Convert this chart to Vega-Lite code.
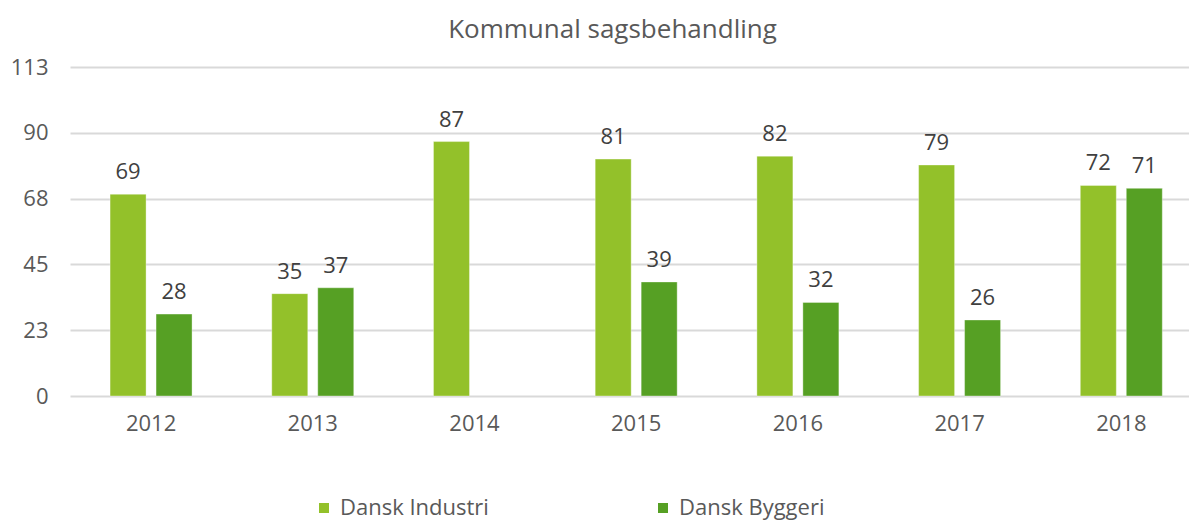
{
  "$schema": "https://vega.github.io/schema/vega-lite/v6.json",
  "width": 1119,
  "height": 329,
  "autosize": {"type": "none"},
  "padding": {"left": 70, "top": 67, "right": 0, "bottom": 124},
  "background": "#ffffff",
  "config": {
    "font": "Open Sans",
    "view": {"stroke": null}
  },
  "title": {
    "text": "Kommunal sagsbehandling",
    "fontSize": 26,
    "fontWeight": "normal",
    "color": "#595959",
    "anchor": "middle",
    "baseline": "bottom",
    "offset": 22,
    "dx": -17,
    "dy": 35
  },
  "data": {
    "values": [
      {"year": "2012", "series": "Dansk Industri", "value": 69},
      {"year": "2012", "series": "Dansk Byggeri", "value": 28},
      {"year": "2013", "series": "Dansk Industri", "value": 35},
      {"year": "2013", "series": "Dansk Byggeri", "value": 37},
      {"year": "2014", "series": "Dansk Industri", "value": 87},
      {"year": "2014", "series": "Dansk Byggeri", "value": null},
      {"year": "2015", "series": "Dansk Industri", "value": 81},
      {"year": "2015", "series": "Dansk Byggeri", "value": 39},
      {"year": "2016", "series": "Dansk Industri", "value": 82},
      {"year": "2016", "series": "Dansk Byggeri", "value": 32},
      {"year": "2017", "series": "Dansk Industri", "value": 79},
      {"year": "2017", "series": "Dansk Byggeri", "value": 26},
      {"year": "2018", "series": "Dansk Industri", "value": 72},
      {"year": "2018", "series": "Dansk Byggeri", "value": 71}
    ]
  },
  "encoding": {
    "x": {
      "field": "year",
      "type": "nominal",
      "scale": {"paddingInner": 0.493, "paddingOuter": 0.2065, "align": 0.6},
      "axis": {
        "title": null,
        "labelAngle": 0,
        "labelFontSize": 22,
        "labelColor": "#595959",
        "labelPadding": 17,
        "labelBaseline": "top",
        "ticks": false,
        "domain": false,
        "grid": false
      }
    },
    "xOffset": {
      "field": "series",
      "type": "nominal",
      "sort": ["Dansk Industri", "Dansk Byggeri"],
      "scale": {"paddingInner": 0.217, "paddingOuter": 0}
    },
    "y": {
      "field": "value",
      "type": "quantitative",
      "scale": {"domain": [0, 112.5], "nice": false},
      "axis": {
        "title": null,
        "values": [0, 22.5, 45, 67.5, 90, 112.5],
        "format": ".0f",
        "labelFontSize": 22,
        "labelColor": "#595959",
        "labelPadding": 22,
        "ticks": false,
        "domain": false,
        "gridColor": "#d9d9d9",
        "gridWidth": 2
      }
    }
  },
  "layer": [
    {
      "mark": {"type": "bar", "stroke": "#ffffff", "strokeWidth": 0.6, "strokeOpacity": 0.6},
      "encoding": {
        "color": {
          "field": "series",
          "type": "nominal",
          "sort": ["Dansk Industri", "Dansk Byggeri"],
          "scale": {"domain": ["Dansk Industri", "Dansk Byggeri"], "range": ["#93c12a", "#56a024"]},
          "legend": {
            "title": null,
            "orient": "none",
            "direction": "horizontal",
            "legendX": 243,
            "legendY": 430,
            "symbolType": "square",
            "symbolSize": 100,
            "symbolStrokeWidth": 0,
            "symbolOpacity": 1,
            "labelFontSize": 22,
            "labelColor": "#595959",
            "labelOffset": 5,
            "columnPadding": 163
          }
        }
      }
    },
    {
      "mark": {"type": "text", "baseline": "alphabetic", "dy": -15, "fontSize": 22, "color": "#404040"},
      "encoding": {
        "text": {"field": "value", "type": "quantitative"}
      }
    }
  ]
}
